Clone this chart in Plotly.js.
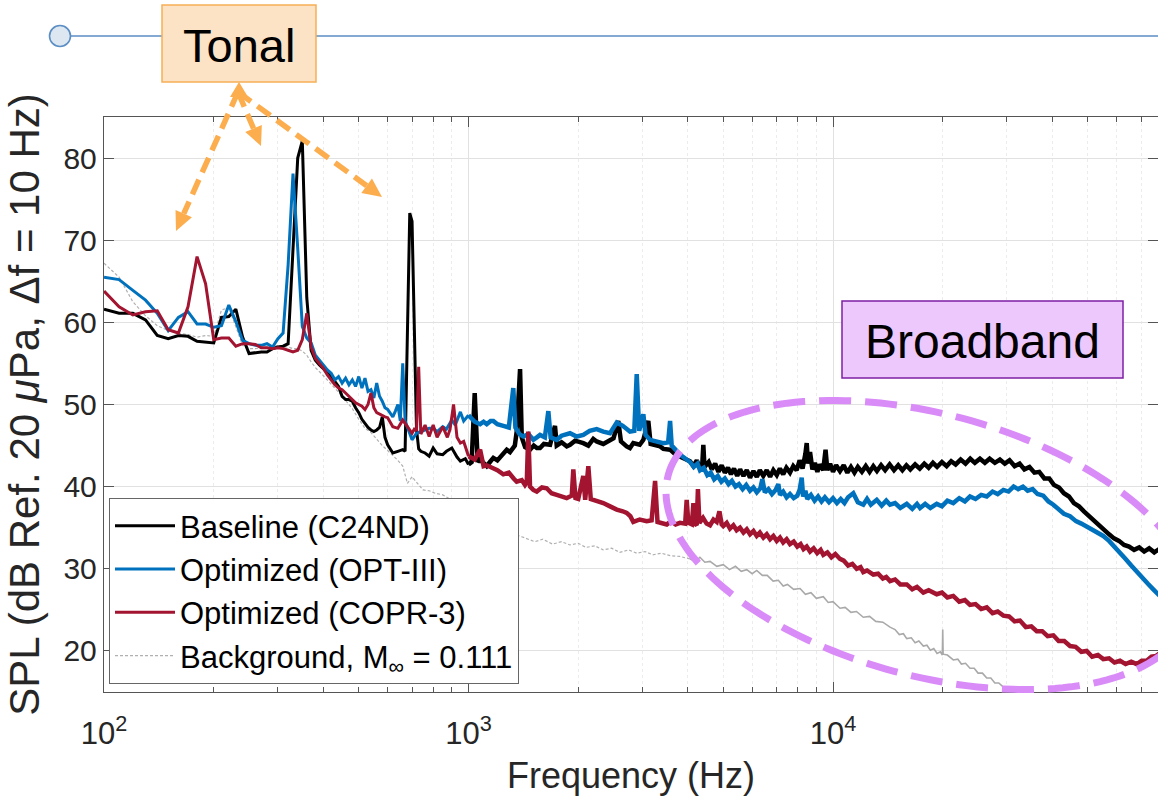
<!DOCTYPE html>
<html>
<head>
<meta charset="utf-8">
<script src="https://cdn.plot.ly/plotly-3.0.1.min.js"></script>
<style>
html,body{margin:0;padding:0;background:#fff;}
#chart{width:1158px;height:801px;}
#chart .legendlines path{d:path("M5,0h60");}
</style>
</head>
<body>
<div id="chart"></div>
<script>
// ---------------- DATA ----------------
const seriesNames = ["Baseline (C24ND)", "Optimized (OPT-III)", "Optimized (COPR-3)", "Background, M<sub>∞</sub> = 0.111"];

// Baseline (C24ND): tonal part (100 Hz - 1 kHz) and broadband part (>= 1 kHz)
const freqBaselineLo = [100,110,120,130,140,150,160,170,180,190,200,210,220,230,240,250,260,270,280,290,300,310,320,330,340,350,360,370,380,390,400,410,420,430,440,450,460,470,480,490,500,510,520,530,540,550,560,570,580,590,600,610,620,640,660,670,680,690,700,710,720,730,740,760,780,800,820,850,870,900,930,950,980,1000];
const splBaselineLo = [61.6,61.1,61.1,60.3,58.4,58.0,58.4,58.3,57.7,57.6,57.5,60.6,60.7,61.6,58.2,56.2,56.3,56.4,56.4,56.8,57.0,57.1,57.4,68.7,80.0,82.1,63.0,56.6,55.4,54.8,54.4,53.9,53.4,52.8,52.2,51.0,50.6,50.6,50.4,49.6,49.0,48.2,47.7,47.2,46.9,46.7,46.9,47.2,48.5,46.0,45.1,44.5,44.1,44.3,44.5,44.3,58.0,73.3,72.3,60.0,47.0,44.6,44.3,44.1,43.7,44.7,44.0,43.9,44.3,44.7,43.6,43.1,43.4,42.7];
const freqBaselineHi = [1000,1020,1040,1060,1076,1100,1122,1145,1170,1200,1246,1273,1300,1340,1356,1385,1400,1430,1475,1510,1540,1571,1610,1674,1727,1746,1800,1860,1899,1960,2065,2132,2200,2247,2343,2445,2500,2576,2620,2716,2773,2832,2950,3018,3114,3160,3250,3354,3424,3499,3573,3700,3804,3968,
4052,4140,4230,4320,4380,4408,4440,4560,4650,4750,4850,4950,5050,5150,5250,5350,5460,5560,5680,5800,5920,6050,6180,6300,6440,6580,6720,6860,7010,7150,7300,7450,7620,7780,7950,8100,8250,8400,8470,8540,8650,8780,8920,9060,9200,9400,9540,9650,9820,10000,10200,10450,10700,10950,11200,11450,11700,12000,12300,12600,12900,13200,13550,13900,14300,14700,15100,15500,15900,16300,16800,17300,17800,18300,18800,19300,19900,20500,21100,21700,22400,23100,23800,24500,25300,26100,26900,27800,28700,29600,30500,31500,32500,33500,34600,35700,36800,38000,39200,40400,41700,43000,44400,45800,47300,48800,50400,52000,53700,55400,57200,59000,60900,62900,64900,67000,69200,71400,73700,76100,78500,80000];
const splBaselineHi = [42.7,43.0,51.4,43.0,43.3,42.8,42.5,43.0,43.5,43.2,44.0,44.5,44.2,45.0,46.7,54.3,46.0,44.8,44.5,45.0,44.7,44.7,45.2,45.1,47.4,45.0,45.4,44.9,45.1,45.6,45.3,45.0,45.8,45.5,45.2,45.7,45.9,48.0,45.5,44.9,44.7,45.3,45.1,45.7,48.0,45.2,45.0,44.9,44.6,44.5,44.5,43.9,43.7,43.3,
43.1,42.5,43.2,42.2,42.8,45.1,42.4,43.0,42.1,42.8,41.8,42.6,41.7,42.3,41.5,42.2,41.3,42.1,41.3,42.0,41.1,41.9,41.2,42.0,41.3,42.0,41.2,42.0,41.4,42.2,41.5,42.3,41.7,42.5,42.0,43.2,42.2,44.0,45.3,42.8,44.2,42.1,42.9,41.8,42.7,42.0,44.5,42.0,42.8,41.8,42.6,41.9,42.6,41.7,42.4,41.7,42.4,41.8,42.5,41.8,42.5,41.9,42.6,42.0,42.7,42.0,42.6,42.0,42.6,42.1,42.7,42.2,42.8,42.3,42.9,42.4,43.0,42.5,43.1,42.7,43.3,42.8,43.4,42.9,43.4,42.9,43.4,42.9,43.3,42.8,43.2,42.5,42.8,42.1,42.4,41.7,41.8,41.0,41.0,40.2,39.9,39.2,38.8,38.0,37.6,37.0,36.4,35.8,35.3,34.8,34.2,33.7,33.4,32.9,32.7,32.3,32.6,32.1,32.5,32.0,32.4,32.1];

// Optimized (OPT-III)
const freqOptLo = [100,110,120,130,140,150,160,170,180,190,200,210,220,230,240,250,260,270,280,290,300,310,320,330,340,350,360,370,380,390,400,410,420,430,440,450,460,470,480,490,500,510,520,530,540,550,560,570,580,590,600,610,620,630,640,650,660,670,680,690,700,720,740,760,780,800,820,850,870,900,920,950,970,1000];
const splOptLo = [65.5,65.2,63.9,62.7,61.1,59.0,60.6,61.3,59.8,59.8,59.4,59.6,62.1,60.1,57.8,57.4,57.2,57.2,57.4,57.0,58.0,58.7,67.0,78.1,69.0,59.5,58.1,57.5,56.0,55.4,54.8,54.2,53.8,53.0,53.4,52.6,53.2,52.4,53.0,52.2,53.4,52.0,53.2,51.6,51.8,50.8,52.6,51.0,50.4,49.6,49.4,48.9,48.5,49.2,50.0,48.0,55.0,48.0,47.3,46.5,45.7,46.5,46.7,46.9,47.1,47.1,46.7,47.3,47.0,48.1,47.5,49.1,48.0,48.7];
const freqOptHi = [1000,1040,1076,1100,1122,1150,1170,1200,1246,1290,1327,1345,1380,1414,1460,1506,1540,1571,1620,1656,1680,1746,1800,1860,1899,1980,2065,2150,2247,2343,2445,2551,2650,2773,2850,2894,2940,3018,3060,3147,3250,3424,3530,3573,3610,3804,
4052,4150,4250,4317,4420,4520,4620,4720,4830,4940,5050,5170,5280,5400,5520,5650,5780,5920,6050,6180,6320,6400,6500,6650,6800,6960,7080,7154,7300,7460,7620,7800,7980,8100,8206,8280,8400,8500,8700,8900,9100,9300,9500,9750,10000,10250,10500,10750,11000,11369,11700,12109,12400,12700,13182,13600,14000,14337,14800,15300,15934,16500,17000,17332,17900,18500,19257,19900,20600,21380,22200,23000,23760,24600,25500,26410,27400,28300,29334,30300,31300,32200,33200,34200,35300,36400,37757,39000,40223,41500,43000,44698,46400,48000,49659,51500,53300,55147,57200,59300,61292,63500,65800,68106,70500,73000,75634,78000,80000];
const splOptHi = [48.7,47.9,47.6,47.9,47.6,48.0,48.0,47.6,47.4,47.2,52.0,47.2,46.4,46.1,46.4,45.7,46.0,46.3,46.0,49.2,46.0,45.7,46.2,46.4,46.5,46.1,46.3,46.8,47.0,46.7,46.5,47.8,47.4,46.7,46.8,53.7,46.8,48.8,46.3,45.7,45.5,45.3,45.4,48.0,45.0,43.9,
43.0,42.4,42.8,42.0,42.3,41.4,41.7,40.9,41.3,40.6,41.0,40.3,40.7,40.0,40.3,39.7,40.2,39.5,39.9,39.3,39.8,40.9,39.3,39.7,39.1,39.6,40.3,39.0,39.4,38.7,39.1,38.6,38.9,39.6,41.1,38.8,39.5,38.5,39.0,38.3,38.8,38.2,38.7,38.1,38.6,38.0,38.5,38.0,38.7,39.2,38.1,37.8,38.5,37.8,38.4,37.7,38.3,37.8,38.0,37.4,37.9,37.3,37.9,37.4,37.9,37.4,37.9,37.6,38.3,38.0,38.6,38.2,38.8,38.5,39.0,38.8,39.4,39.1,39.6,39.4,40.0,39.7,40.0,39.5,39.7,39.1,38.9,38.2,37.8,37.3,36.7,36.4,35.8,35.5,35.1,34.8,34.3,34.0,33.4,32.7,32.0,31.2,30.4,29.6,28.9,28.2,27.5,26.8,26.4];

// Optimized (COPR-3)
const freqCoprLo = [100,110,120,130,140,150,160,170,180,190,200,210,220,230,240,250,260,270,280,290,300,310,320,330,340,350,360,370,380,390,400,410,420,430,440,450,460,470,480,490,500,510,520,530,540,550,560,570,580,590,600,620,640,660,680,700,710,720,730,740,760,780,800,820,850,875,890,910,930,950,970,1000];
const splCoprLo = [63.8,61.9,60.9,61.3,61.4,59.1,58.7,61.9,68.0,64.7,57.9,58.1,58.1,57.1,57.4,57.4,57.3,56.9,56.9,56.8,56.9,56.8,56.6,56.4,56.6,57.9,61.1,57.0,55.6,55.0,54.4,53.6,53.0,52.4,52.0,51.8,51.4,51.0,50.6,50.2,50.0,49.8,49.4,50.0,51.4,49.6,49.0,48.8,48.6,48.5,48.4,47.3,47.1,48.1,47.3,46.5,47.0,46.8,54.6,46.4,47.5,46.1,47.5,46.0,47.3,46.0,47.0,50.0,46.0,45.3,45.5,43.7];
const freqCoprHi = [1000,1040,1076,1100,1122,1170,1200,1246,1290,1330,1356,1400,1429,1445,1459,1475,1506,1539,1590,1639,1690,1746,1800,1860,1920,1939,1965,2000,2065,2090,2132,2165,2200,2280,2343,2445,2551,2650,2716,2780,2832,2950,3083,3180,3250,3300,3400,3499,3600,3700,3804,3930,3968,4010,4100,4140,4180,4227,4260,4300,
4400,4500,4599,4700,4797,4880,4950,5000,5110,5217,5330,5440,5557,5680,5800,5920,6050,6176,6300,6441,6580,6720,6862,7010,7154,7300,7460,7621,7800,7980,8150,8300,8469,8650,8850,9050,9250,9407,9650,9900,10150,10452,10700,11000,11300,11614,11900,12109,12400,12900,13300,13700,14000,14337,14800,15300,15934,16500,17000,17695,18300,19257,19900,20600,21380,22200,23000,23760,24600,25500,26410,27400,28300,29334,30400,31500,32584,33800,35000,36216,37500,38800,40223,41600,43100,44698,46300,48000,49659,51400,53300,55147,57200,59200,61292,63500,65800,68106,70300,72538,74800,77000,80000];
const splCoprHi = [43.7,43.3,44.5,42.5,42.6,42.3,42.0,41.5,41.7,41.0,40.6,40.8,40.2,40.5,46.7,40.0,39.6,39.4,39.9,39.8,39.2,39.0,38.8,38.6,38.9,42.1,38.6,38.5,41.3,38.4,42.5,38.5,38.4,38.2,38.0,37.6,37.2,37.0,36.8,36.4,35.7,36.0,35.8,35.9,40.7,35.7,35.6,35.4,35.8,35.4,35.6,35.5,38.4,35.6,35.4,38.0,35.5,35.3,39.7,35.6,
36.2,35.5,35.3,36.0,35.7,37.0,35.4,35.2,35.6,34.9,35.3,34.7,35.0,34.4,34.8,34.2,34.6,34.0,34.4,33.8,34.2,33.6,34.0,33.4,33.8,33.2,33.6,33.0,33.3,32.7,33.0,32.4,32.7,32.1,32.5,31.9,32.3,31.7,32.0,31.4,31.8,31.2,31.0,30.4,30.6,30.0,30.2,29.6,29.8,29.3,29.4,28.8,29.0,28.5,28.7,28.1,28.1,27.5,27.8,27.1,27.4,26.9,27.1,26.5,26.7,26.0,26.2,25.6,25.7,25.1,25.3,24.6,24.8,24.3,24.2,23.6,23.7,22.9,23.0,22.4,22.4,21.8,21.9,21.2,21.2,20.6,20.5,19.9,20.0,19.3,19.5,19.0,19.1,18.6,18.8,18.4,18.7,18.4,18.8,18.8,19.3,19.4,19.9];

// Background, M = 0.111 (low part dashed, high part noisy)
const freqBackgroundLo = [100,110,120,130,140,150,160,170,180,190,200,210,220,230,240,250,260,270,280,290,300,310,320,330,340,350,360,370,380,400,420,440,460,480,500,520,540,560,580,600,620,640,660,680,700,720,750,780,810,850,890,950,1000,1100,1200,1300,1400,1520,1600,1700,1800,1897,2000,2100,2220,2340,2470,2600,2750,2895,3050,3200,3380,3575,3800,4052];
const splBackgroundLo = [67.2,65.5,62.5,60.8,59.6,59.0,58.7,58.5,58.2,58.4,58.3,61.5,61.8,59.5,57.2,56.8,56.8,56.9,57.0,57.0,57.2,57.0,57.0,56.8,56.8,56.5,56.0,55.2,54.5,53.5,52.5,51.5,50.5,49.5,48.2,47.1,46.6,45.8,45.0,44.4,43.8,43.2,42.5,40.4,41.2,40.5,39.6,39.5,39.2,39.0,38.5,37.8,37.2,36.1,35.2,34.4,33.9,33.3,33.6,33.0,33.3,32.9,33.1,32.6,32.8,32.3,32.5,32.0,32.3,31.9,32.1,31.7,31.9,31.6,31.5,31.2];
const freqBackgroundHi = [4052,4200,4315,4450,4600,4800,5000,5200,5400,5600,5800,6000,6176,6400,6600,6850,7080,7300,7500,7800,8122,8400,8700,9000,9407,9700,10000,10452,10800,11200,11600,12109,12600,13100,13700,14337,14800,15200,15600,15934,16400,16800,17200,17695,18100,18500,18900,19300,19700,19950,20000,20050,20600,21380,22000,22500,23100,23760,24400,25000,25700,26410,27100,27800,28500,29334,31915,34000];
const splBackgroundHi = [31.2,30.9,31.4,30.8,30.9,30.3,30.5,29.9,30.3,29.7,29.9,29.4,29.8,29.2,29.2,28.5,28.6,27.9,28.1,27.5,27.6,26.9,27.1,26.4,26.6,25.9,26.0,25.2,25.3,24.7,24.8,24.1,24.2,23.6,23.5,22.9,22.6,22.0,22.1,21.5,21.6,21.0,21.2,20.6,20.7,20.1,20.3,19.7,19.9,19.5,22.6,19.6,19.5,18.9,19.0,18.4,18.5,17.9,17.9,17.3,17.3,16.7,16.7,16.1,16.1,15.6,14.8,14.0];

const xTickVals = [100, 1000, 10000];
const xTickText = ["10<sup>2</sup>", "10<sup>3</sup>", "10<sup>4</sup>"];
const xMinorVals = [200,300,400,500,600,700,800,900,2000,3000,4000,5000,6000,7000,8000,9000,20000,30000,40000,50000,60000,70000,80000];
const yTickVals = [20, 30, 40, 50, 60, 70, 80];

// ---------------- LAYOUT HELPERS ----------------
const W = 1158, H = 801;
const M = {l: 104, r: 0, t: 117, b: 109};
const PW = W - M.l - M.r, PH = H - M.t - M.b;
const X = px => (px - M.l) / PW;
const Y = py => (H - M.b - py) / PH;
const FONT = "Liberation Sans, Arial, Helvetica, sans-serif";

const orange = "#fcad4e";
const shapes = [];

// top timeline-like decoration
shapes.push({type: "line", xref: "paper", yref: "paper", x0: X(70), x1: X(1160), y0: Y(36), y1: Y(36), line: {color: "#5b8ec4", width: 1.5}});
shapes.push({type: "circle", xref: "paper", yref: "paper", x0: X(49.5), x1: X(70.5), y0: Y(46.5), y1: Y(25.5), fillcolor: "#dde7f1", line: {color: "#5b8ec4", width: 1.6}});

// Tonal box
shapes.push({type: "rect", xref: "paper", yref: "paper", x0: X(162), x1: X(316), y0: Y(82), y1: Y(5), fillcolor: "#fde3c6", line: {color: "#f6ae55", width: 1.5}, layer: "above"});
// Broadband box
shapes.push({type: "rect", xref: "paper", yref: "paper", x0: X(842), x1: X(1123), y0: Y(378), y1: Y(301), fillcolor: "#ecc8fd", line: {color: "#7d1fa2", width: 1.5}, layer: "above"});

// dashed arrows with heads
function head(tx, ty, dx, dy, L, w) {
  const n = Math.hypot(dx, dy); const ux = dx / n, uy = dy / n;
  const bx = tx - L * ux, by = ty - L * uy;
  const px = -uy, py = ux;
  return {bx, by, path: `M ${X(tx)},${Y(ty)} L ${X(bx + w * px)},${Y(by + w * py)} L ${X(bx - w * px)},${Y(by - w * py)} Z`};
}
const arrowStart = [238, 92];
const arrowTips = [[176, 231], [261, 146], [382, 197]];
arrowTips.forEach(t => {
  const h = head(t[0], t[1], t[0] - arrowStart[0], t[1] - arrowStart[1], 19, 9);
  shapes.push({type: "line", xref: "paper", yref: "paper", x0: X(arrowStart[0]), y0: Y(arrowStart[1]), x1: X(h.bx), y1: Y(h.by), line: {color: orange, width: 5.5, dash: "16px,8px"}, layer: "above"});
  shapes.push({type: "path", xref: "paper", yref: "paper", path: h.path, fillcolor: orange, line: {width: 0}, layer: "above"});
});
const topHead = head(239, 82, 0, -1, 15, 9);
shapes.push({type: "path", xref: "paper", yref: "paper", path: topHead.path, fillcolor: orange, line: {width: 0}, layer: "above"});

// dashed ellipse around the broadband region
(function () {
  const cx = 929, cy = 545, a = 270, b = 131, th = 15 * Math.PI / 180;
  let p = "";
  for (let i = 0; i <= 180; i++) {
    const t = i / 180 * 2 * Math.PI;
    const x = cx + a * Math.cos(t) * Math.cos(th) - b * Math.sin(t) * Math.sin(th);
    const y = cy + a * Math.cos(t) * Math.sin(th) + b * Math.sin(t) * Math.cos(th);
    p += (i === 0 ? "M " : " L ") + X(x) + "," + Y(y);
  }
  shapes.push({type: "path", xref: "paper", yref: "paper", path: p, line: {color: "#d98bf8", width: 7, dash: "32px,14px"}, layer: "above"});
})();

const annotations = [
  {xref: "paper", yref: "paper", x: X(239), y: Y(45), text: "Tonal", showarrow: false, font: {family: FONT, size: 47, color: "#000"}, xanchor: "center", yanchor: "middle"},
  {xref: "paper", yref: "paper", x: X(982.5), y: Y(341), text: "Broadband", showarrow: false, font: {family: FONT, size: 48, color: "#000"}, xanchor: "center", yanchor: "middle"}
];

// ---------------- TRACES ----------------
const colBase = "#000000", colOpt = "#0072BD", colCopr = "#A2142F", colBg = "#a9a9a9";
const traces = [
  {x: freqBackgroundLo, y: splBackgroundLo, name: seriesNames[3], legendgroup: "bg", type: "scatter", mode: "lines", line: {color: "#b0b0b0", width: 1.2, dash: "3px,2px"}, legendrank: 4},
  {x: freqBackgroundHi, y: splBackgroundHi, name: seriesNames[3], legendgroup: "bg", showlegend: false, type: "scatter", mode: "lines", line: {color: colBg, width: 1.6}},
  {x: freqBaselineLo, y: splBaselineLo, name: seriesNames[0], legendgroup: "base", type: "scatter", mode: "lines", line: {color: colBase, width: 3}, legendrank: 1},
  {x: freqBaselineHi, y: splBaselineHi, name: seriesNames[0], legendgroup: "base", showlegend: false, type: "scatter", mode: "lines", line: {color: colBase, width: 4.5}},
  {x: freqOptLo, y: splOptLo, name: seriesNames[1], legendgroup: "opt", type: "scatter", mode: "lines", line: {color: colOpt, width: 3}, legendrank: 2},
  {x: freqOptHi, y: splOptHi, name: seriesNames[1], legendgroup: "opt", showlegend: false, type: "scatter", mode: "lines", line: {color: colOpt, width: 4.5}},
  {x: freqCoprLo, y: splCoprLo, name: seriesNames[2], legendgroup: "copr", type: "scatter", mode: "lines", line: {color: colCopr, width: 3}, legendrank: 3},
  {x: freqCoprHi, y: splCoprHi, name: seriesNames[2], legendgroup: "copr", showlegend: false, type: "scatter", mode: "lines", line: {color: colCopr, width: 4.5}}
];

const layout = {
  width: W, height: H,
  margin: M,
  paper_bgcolor: "#ffffff", plot_bgcolor: "#ffffff",
  font: {family: FONT, color: "#262626"},
  showlegend: true,
  legend: {
    x: X(109), y: Y(684), xanchor: "left", yanchor: "bottom",
    bgcolor: "#ffffff", bordercolor: "#666666", borderwidth: 1,
    font: {family: FONT, size: 31, color: "#000"},
    tracegroupgap: 0, itemwidth: 60, traceorder: "normal"
  },
  xaxis: {
    type: "log", range: [2, 2 + PW / 364.5],
    tickmode: "array", tickvals: xTickVals, ticktext: xTickText,
    ticks: "inside", ticklen: 10, tickcolor: "#555", tickwidth: 1,
    showline: true, linecolor: "#555", linewidth: 1.2, mirror: "ticks",
    showgrid: true, gridcolor: "#e1e1e1", gridwidth: 1,
    minor: {tickmode: "array", tickvals: xMinorVals, ticks: "inside", ticklen: 5, tickcolor: "#555", showgrid: true, gridcolor: "#ececec", griddash: "dot", gridwidth: 1},
    tickfont: {family: FONT, size: 31, color: "#262626"},
    ticklabelstandoff: 14,
    title: {text: "Frequency (Hz)", font: {family: FONT, size: 36, color: "#262626"}, standoff: 12},
    zeroline: false, automargin: false
  },
  yaxis: {
    range: [15, 85],
    tickmode: "array", tickvals: yTickVals,
    ticks: "inside", ticklen: 10, tickcolor: "#555", tickwidth: 1,
    showline: true, linecolor: "#555", linewidth: 1.2, mirror: "ticks",
    showgrid: true, gridcolor: "#e1e1e1", gridwidth: 1,
    tickfont: {family: FONT, size: 30, color: "#262626"},
    title: {text: "SPL (dB Ref. 20 <i>μ</i>Pa, Δf = 10 Hz)", font: {family: FONT, size: 42, color: "#262626"}, standoff: 10},
    zeroline: false, automargin: false
  },
  shapes: shapes,
  annotations: annotations
};

// longer line samples in the legend, like the reference
function stretchLegendLines() {
  document.querySelectorAll("#chart .legendlines path").forEach(function (p) { p.setAttribute("d", "M5,0h60"); });
}
const gd = document.getElementById("chart");
Plotly.newPlot(gd, traces, layout, {staticPlot: true, displayModeBar: false}).then(function () {
  stretchLegendLines();
  gd.on("plotly_afterplot", stretchLegendLines);
  setTimeout(stretchLegendLines, 50);
  setTimeout(stretchLegendLines, 300);
});
</script>
</body>
</html>
